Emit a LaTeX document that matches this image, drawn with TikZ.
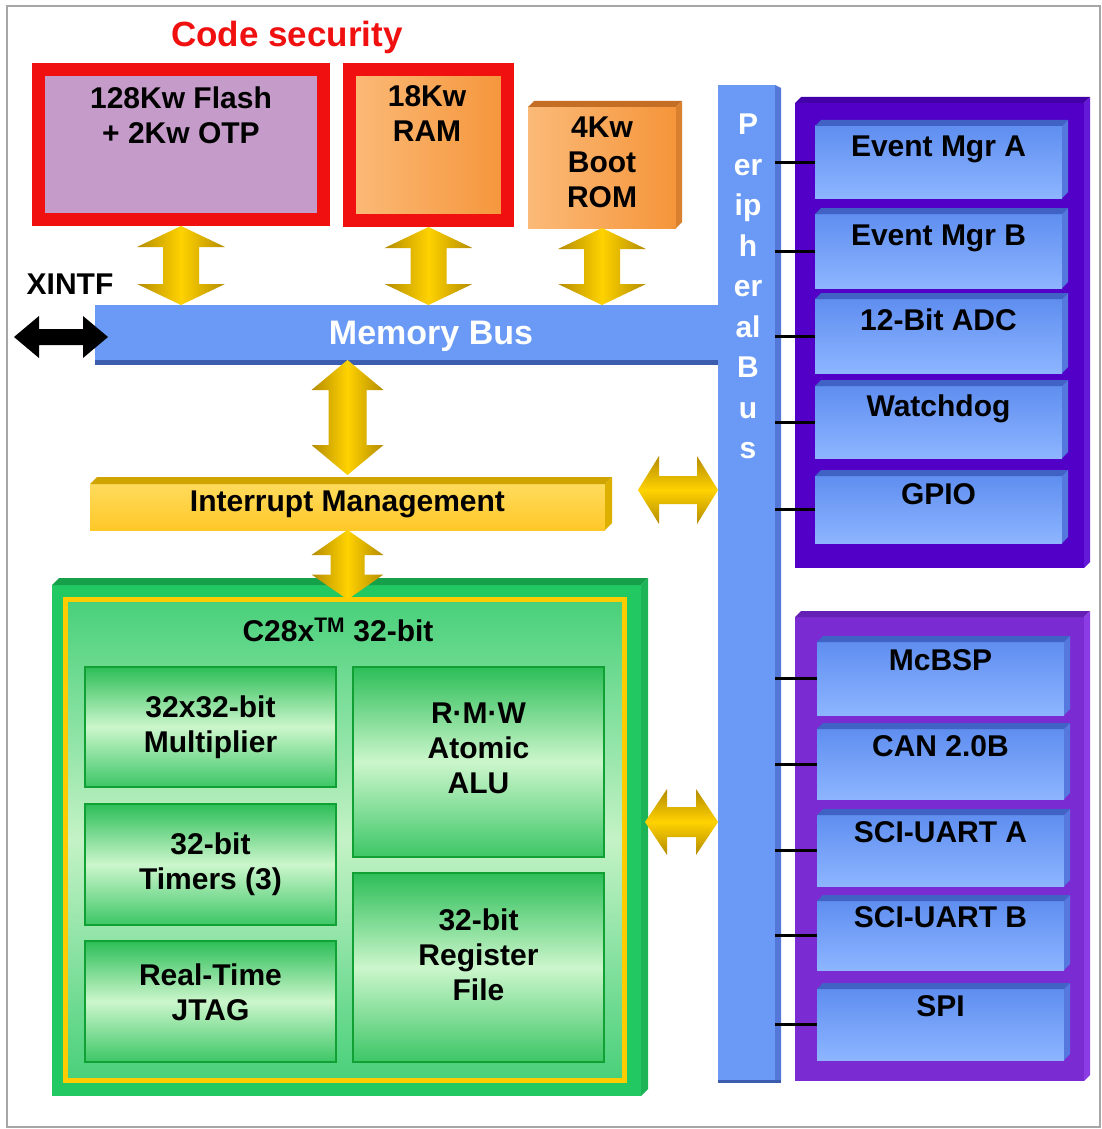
\documentclass[tikz,border=0pt]{standalone}
\usepackage{fontspec}
\setmainfont{Liberation Sans}
\usetikzlibrary{calc}
\definecolor{secred}{HTML}{F01010}
\definecolor{lilac}{HTML}{C49BC9}
\definecolor{orangeA}{HTML}{FBBA78}
\definecolor{orangeB}{HTML}{F5953A}
\definecolor{romtop}{HTML}{C46E25}
\definecolor{romside}{HTML}{D8802E}
\definecolor{busblue}{HTML}{6A9AF5}
\definecolor{busdark}{HTML}{3A5DB0}
\definecolor{busside}{HTML}{5378D8}
\definecolor{purpA}{HTML}{5200C8}
\definecolor{purpAtop}{HTML}{4300A8}
\definecolor{purpAside}{HTML}{6418D8}
\definecolor{purpB}{HTML}{7A2BD2}
\definecolor{purpBtop}{HTML}{6420B4}
\definecolor{purpBside}{HTML}{8C3CE4}
\definecolor{boxtop}{HTML}{5F8EF0}
\definecolor{boxbot}{HTML}{8DB5FF}
\definecolor{boxbevtop}{HTML}{3F62C4}
\definecolor{boxbevside}{HTML}{5478DD}
\definecolor{gold}{HTML}{FFD200}
\definecolor{golddark}{HTML}{B48C00}
\definecolor{intrA}{HTML}{FFDB5C}
\definecolor{intrB}{HTML}{FFC828}
\definecolor{intrtop}{HTML}{CFA300}
\definecolor{intrside}{HTML}{DDB000}
\definecolor{greenA}{HTML}{22C862}
\definecolor{greentop}{HTML}{17A04A}
\definecolor{greenside}{HTML}{1CB456}
\definecolor{yframe}{HTML}{FFCC00}
\definecolor{corelight}{HTML}{C4F2C6}
\definecolor{coregreen}{HTML}{48D07A}
\definecolor{subdark}{HTML}{10A034}
\definecolor{subtop}{HTML}{2CBE58}
\definecolor{submid}{HTML}{CCF6CC}
\definecolor{subbot}{HTML}{3CC666}

% 3D bevel: top face and right face of a node
\newcommand\bevelbox[4]{%
  \fill[#3] (#1.north west) -- ++(#2,#2) -- ($(#1.north east)+(#2,#2)$) -- (#1.north east) -- cycle;
  \fill[#4] (#1.north east) -- ++(#2,#2) -- ($(#1.south east)+(#2,#2)$) -- (#1.south east) -- cycle;}
% fat vertical double arrow: from, to, head half width, shaft half width, head length, style
\newcommand\vdarrow[6]{%
  \path[#6] let \p1=(#1), \p2=(#2) in
  (\x1,\y1) -- (\x1+#3,\y1-#5) -- (\x1+#4,\y1-#5) -- (\x1+#4,\y2+#5) -- (\x1+#3,\y2+#5)
  -- (\x1,\y2) -- (\x1-#3,\y2+#5) -- (\x1-#4,\y2+#5) -- (\x1-#4,\y1-#5) -- (\x1-#3,\y1-#5) -- cycle;}
% fat horizontal double arrow: from (left), to (right), head half height, shaft half height, head length, style
\newcommand\hdarrow[6]{%
  \path[#6] let \p1=(#1), \p2=(#2) in
  (\x1,\y1) -- (\x1+#5,\y1+#3) -- (\x1+#5,\y1+#4) -- (\x2-#5,\y1+#4) -- (\x2-#5,\y1+#3)
  -- (\x2,\y1) -- (\x2-#5,\y1-#3) -- (\x2-#5,\y1-#4) -- (\x1+#5,\y1-#4) -- (\x1+#5,\y1-#3) -- cycle;}

\begin{document}
\begin{tikzpicture}[x=1pt,y=-1pt,
  base/.style={font=\bfseries\fontsize{30}{35}\selectfont, inner sep=0pt, outer sep=0pt},
  lbl/.style={base, align=center, text=black},
  memframe/.style={draw=secred, line width=13pt, inner sep=0pt},
  cbox/.style={lbl, draw=subdark, line width=2pt, top color=subtop, bottom color=subbot, middle color=submid, minimum width=251},
  pbox/.style={lbl, top color=boxtop, bottom color=boxbot, minimum width=247, text height=22pt, text depth=32.5pt},
  pboxlow/.style={pbox, text depth=37.5pt},
  conn/.style={draw=black, line width=3pt},
  varrow/.style={left color=golddark, right color=golddark, middle color=gold},
  harrow/.style={top color=golddark, bottom color=golddark, middle color=gold}]
\useasboundingbox (0,0) rectangle (1102,1129);
\fill[white] (0,0) rectangle (1102,1129);
\draw[gray!70, line width=1.2pt] (7,6) rectangle (1100,1127);

% ---- memories ----
\node[lbl, text=secred, font=\bfseries\fontsize{35}{40}\selectfont] (sec) at (287,37) {Code security};
\node[memframe, fill=lilac, minimum width=285, minimum height=150] (flash) at (181,144.5) {};
\node[lbl, anchor=north] (flashtxt) at (181,87) {128Kw Flash\\+ 2Kw OTP};
\node[memframe, left color=orangeA, right color=orangeB, minimum width=158, minimum height=151] (ram) at (428.5,145) {};
\node[lbl, anchor=north] (ramtxt) at (427,86) {18Kw\\RAM};
\node[lbl, left color=orangeA, right color=orangeB, minimum width=148, minimum height=121, text depth=10pt] (rom) at (602,167.5) {4Kw\\Boot\\ROM};
\bevelbox{rom}{6pt}{romtop}{romside}

% ---- buses ----
\node[base, fill=busblue, minimum width=623, minimum height=55] (membus) at (406.5,332.5) {};
\fill[busdark] (membus.south west) rectangle ($(membus.south east)+(0,5)$);
\node[lbl, text=white, font=\bfseries\fontsize{34}{39}\selectfont] (membustxt) at (431,336) {Memory Bus};
\node[base, fill=busblue, minimum width=57, minimum height=995] (pbus) at (746.5,582.5) {};
\fill[busside] (pbus.north east) -- ++(6pt,-3pt) -- ($(pbus.south east)+(6pt,0)$) -- (pbus.south east) -- cycle;
\fill[busdark] (pbus.south west) rectangle ($(pbus.south east)+(6,3)$);
\node[lbl, text=white, anchor=north, font=\bfseries\fontsize{30}{40.5}\selectfont] (pbustxt) at (748,114) {P\\er\\ip\\h\\er\\al\\B\\u\\s};

\node[lbl] (xintf) at (70,284) {XINTF};
\coordinate (xleft) at (14,337);
\hdarrow{xleft}{$(membus.west)+(13,0)$}{21pt}{8pt}{25pt}{fill=black}

% ---- interrupt management ----
\node[lbl, top color=intrA, bottom color=intrB, minimum width=515, minimum height=46, text depth=12pt] (intr) at (347.5,507) {Interrupt Management};
\bevelbox{intr}{7pt}{intrtop}{intrside}

% ---- CPU ----
\node[base, fill=greenA, minimum width=589, minimum height=511] (cpu) at (346.5,840.5) {};
\bevelbox{cpu}{7pt}{greentop}{greenside}
\node[base, draw=yframe, line width=5pt, top color=coregreen, bottom color=coregreen, middle color=corelight, minimum width=559, minimum height=481] (core) at (345,840) {};
\node[lbl] (title) at (338,630) {C28x\textsuperscript{TM} 32-bit};
\node[cbox, minimum height=120] (mult) at (210.5,727) {32x32-bit\\Multiplier};
\node[cbox, minimum height=121] (timers) at (210.5,864.5) {32-bit\\Timers (3)};
\node[cbox, minimum height=121, text depth=19pt] (jtag) at (210.5,1001.5) {Real-Time\\JTAG};
\node[cbox, minimum height=190, text depth=28pt] (alu) at (478.5,762) {R·M·W\\Atomic\\ALU};
\node[cbox, minimum height=189, text depth=26pt] (regf) at (478.5,967.5) {32-bit\\Register\\File};

% ---- peripheral groups ----
\node[base, fill=purpA, minimum width=289, minimum height=465] (grpA) at (939.5,335.5) {};
\bevelbox{grpA}{6pt}{purpAtop}{purpAside}
\node[base, fill=purpB, minimum width=289, minimum height=464] (grpB) at (939.5,849) {};
\bevelbox{grpB}{6pt}{purpBtop}{purpBside}

\node[pbox, minimum height=72] (evA) at (938.5,162) {Event Mgr A};
\node[pbox, minimum height=74] (evB) at (938.5,251) {Event Mgr B};
\node[pbox, minimum height=74] (adc) at (938.5,336) {12-Bit ADC};
\node[pbox, minimum height=72] (wdog) at (938.5,422) {Watchdog};
\node[pbox, minimum height=67] (gpio) at (938.5,509.5) {GPIO};
\node[pboxlow, minimum height=73] (mcbsp) at (940.5,678.5) {McBSP};
\node[pboxlow, minimum height=70] (can) at (940.5,764) {CAN 2.0B};
\node[pboxlow, minimum height=71] (scia) at (940.5,850.5) {SCI-UART A};
\node[pboxlow, minimum height=69] (scib) at (940.5,935.5) {SCI-UART B};
\node[pboxlow, minimum height=71] (spi) at (940.5,1024.5) {SPI};
\foreach \n in {evA,evB,adc,wdog,gpio,mcbsp,can,scia,scib,spi}{
  \bevelbox{\n}{6pt}{boxbevtop}{boxbevside}
  \draw[conn] (pbus.east |- \n) -- (\n.west);
}

% ---- yellow bus arrows ----
\vdarrow{flash.south}{flash.south |- membus.north}{44pt}{18pt}{21pt}{varrow}
\vdarrow{ram.south}{ram.south |- membus.north}{44pt}{18pt}{21pt}{varrow}
\vdarrow{rom.south}{rom.south |- membus.north}{44pt}{18pt}{21pt}{varrow}
\vdarrow{intr.north |- membus.south}{$(intr.north)+(0,-9)$}{36pt}{19pt}{30pt}{varrow}
\vdarrow{intr.south}{core.north}{36pt}{17pt}{25pt}{varrow}
\coordinate (ia) at (638,490);
\hdarrow{ia}{pbus.west |- ia}{34pt}{14pt}{21pt}{harrow}
\coordinate (cpuport) at (645,822);
\hdarrow{cpuport}{pbus.west |- cpuport}{33pt}{15pt}{22pt}{harrow}
\end{tikzpicture}
\end{document}
